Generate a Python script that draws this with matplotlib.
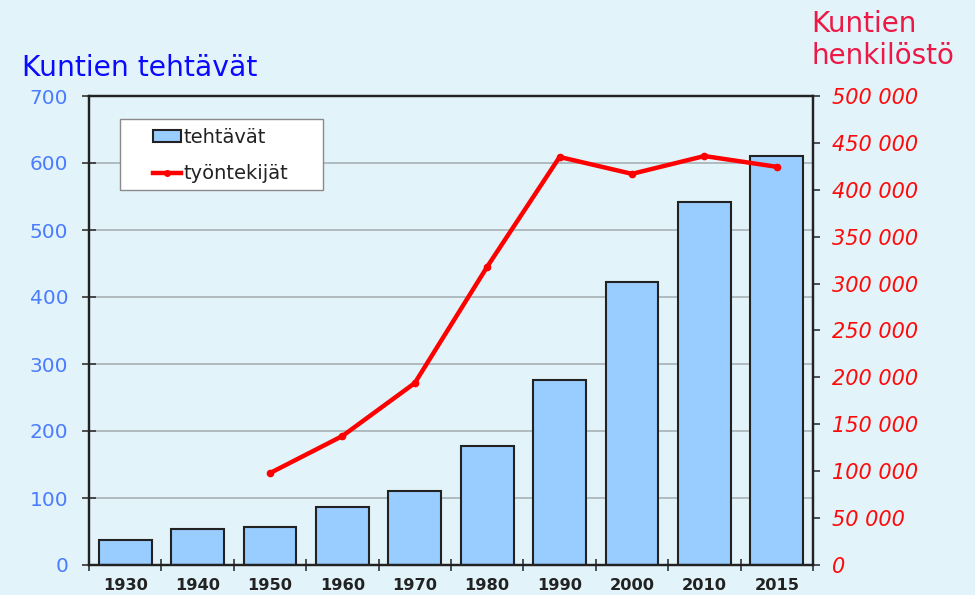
import numpy as np
import matplotlib.pyplot as plt
from matplotlib.patches import Rectangle
from matplotlib.ticker import FuncFormatter, FixedLocator

# data
years = ["1930", "1940", "1950", "1960", "1970", "1980", "1990", "2000", "2010", "2015"]
tehtavat = [38, 53, 56, 86, 110, 178, 276, 423, 542, 610]
# henkilosto starts in 1950
tyontekijat_years = ["1950", "1960", "1970", "1980", "1990", "2000", "2010", "2015"]
tyontekijat = [98000, 137500, 194000, 318000, 435000, 417000, 436000, 424500]

bg = "#E2F4F9"
left_col = "#4B7BFF"
right_col = "#FF0A0A"

fig = plt.figure(figsize=(9.75, 5.95), dpi=100, facecolor=bg)
ax = fig.add_axes([89 / 975, 30 / 595, 724 / 975, 469 / 595], facecolor=bg)

x = np.arange(len(years))
ax.bar(x, tehtavat, width=0.73, color="#99CCFF", edgecolor="#222222", linewidth=1.5, zorder=2)
ax.set_xlim(-0.5, len(years) - 0.5)
ax.set_ylim(0, 700)
ax.set_yticks(range(0, 701, 100))
ax.set_axisbelow(True)
ax.yaxis.grid(True, color="#A3ABAF", linewidth=1.1)

ax.set_xticks(x)
ax.set_xticklabels(years, fontsize=11.7, fontweight="bold", color="#222222")
ax.xaxis.set_minor_locator(FixedLocator(np.arange(-0.5, len(years), 1.0)))
ax.tick_params(axis="x", which="major", length=0, pad=9)
ax.tick_params(axis="x", which="minor", direction="inout", length=8, width=1.2, color="#333333")
ax.tick_params(axis="y", direction="inout", length=10, width=1.2, color="#333333",
               labelsize=14.5, labelcolor=left_col, pad=10)
for s in ax.spines.values():
    s.set_color("#222222")
    s.set_linewidth(1.6)

ax2 = ax.twinx()
xi = [years.index(y) for y in tyontekijat_years]
ax2.plot(xi, tyontekijat, color="#FF0000", linewidth=3.2, marker="o", markersize=4.5,
         label="työntekijät", zorder=3)
ax2.set_ylim(0, 500000)
ax2.set_yticks(range(0, 500001, 50000))
ax2.yaxis.set_major_formatter(FuncFormatter(lambda v, p: f"{int(v):,}".replace(",", " ")))
ax2.tick_params(axis="y", direction="out", length=5, width=1.2, color="#333333",
                labelsize=15, labelcolor=right_col, pad=9)
for lab in ax2.get_yticklabels():
    lab.set_fontstyle("italic")
for s in ax2.spines.values():
    s.set_color("#222222")
    s.set_linewidth(1.6)

# legend box
ax2.add_patch(Rectangle((31 / 724, 1 - (190 - 96) / 469), 203 / 724, 71 / 469,
                        transform=ax2.transAxes, facecolor="white", edgecolor="#8A8A8A",
                        linewidth=1.0, zorder=4))
bar_h = Rectangle((0, 0), 1, 1, facecolor="#99CCFF", edgecolor="#222222", linewidth=1.5)
line_h = plt.Line2D([], [], color="#FF0000", linewidth=3.2, marker="o", markersize=4)
leg = ax2.legend([bar_h, line_h], ["tehtävät", "työntekijät"], loc="upper left",
                 bbox_to_anchor=(64 / 724, 1 - (128 - 96) / 469), frameon=False,
                 borderpad=0, borderaxespad=0, handlelength=1.45, handleheight=0.55,
                 handletextpad=0.12, labelspacing=0.9, fontsize=14)
for t in leg.get_texts():
    t.set_color("#222222")
leg.set_zorder(5)

fig.text(22 / 975, 1 - 76 / 595, "Kuntien tehtävät", fontsize=20.3, color="#0A0AFF",
         va="baseline", ha="left")
fig.text(811 / 975, 1 - 32 / 595, "Kuntien", fontsize=20, color="#EC1846",
         va="baseline", ha="left")
fig.text(811 / 975, 1 - 64 / 595, "henkilöstö", fontsize=20, color="#EC1846",
         va="baseline", ha="left")

fig.savefig("out.png", dpi=100, facecolor=bg)
